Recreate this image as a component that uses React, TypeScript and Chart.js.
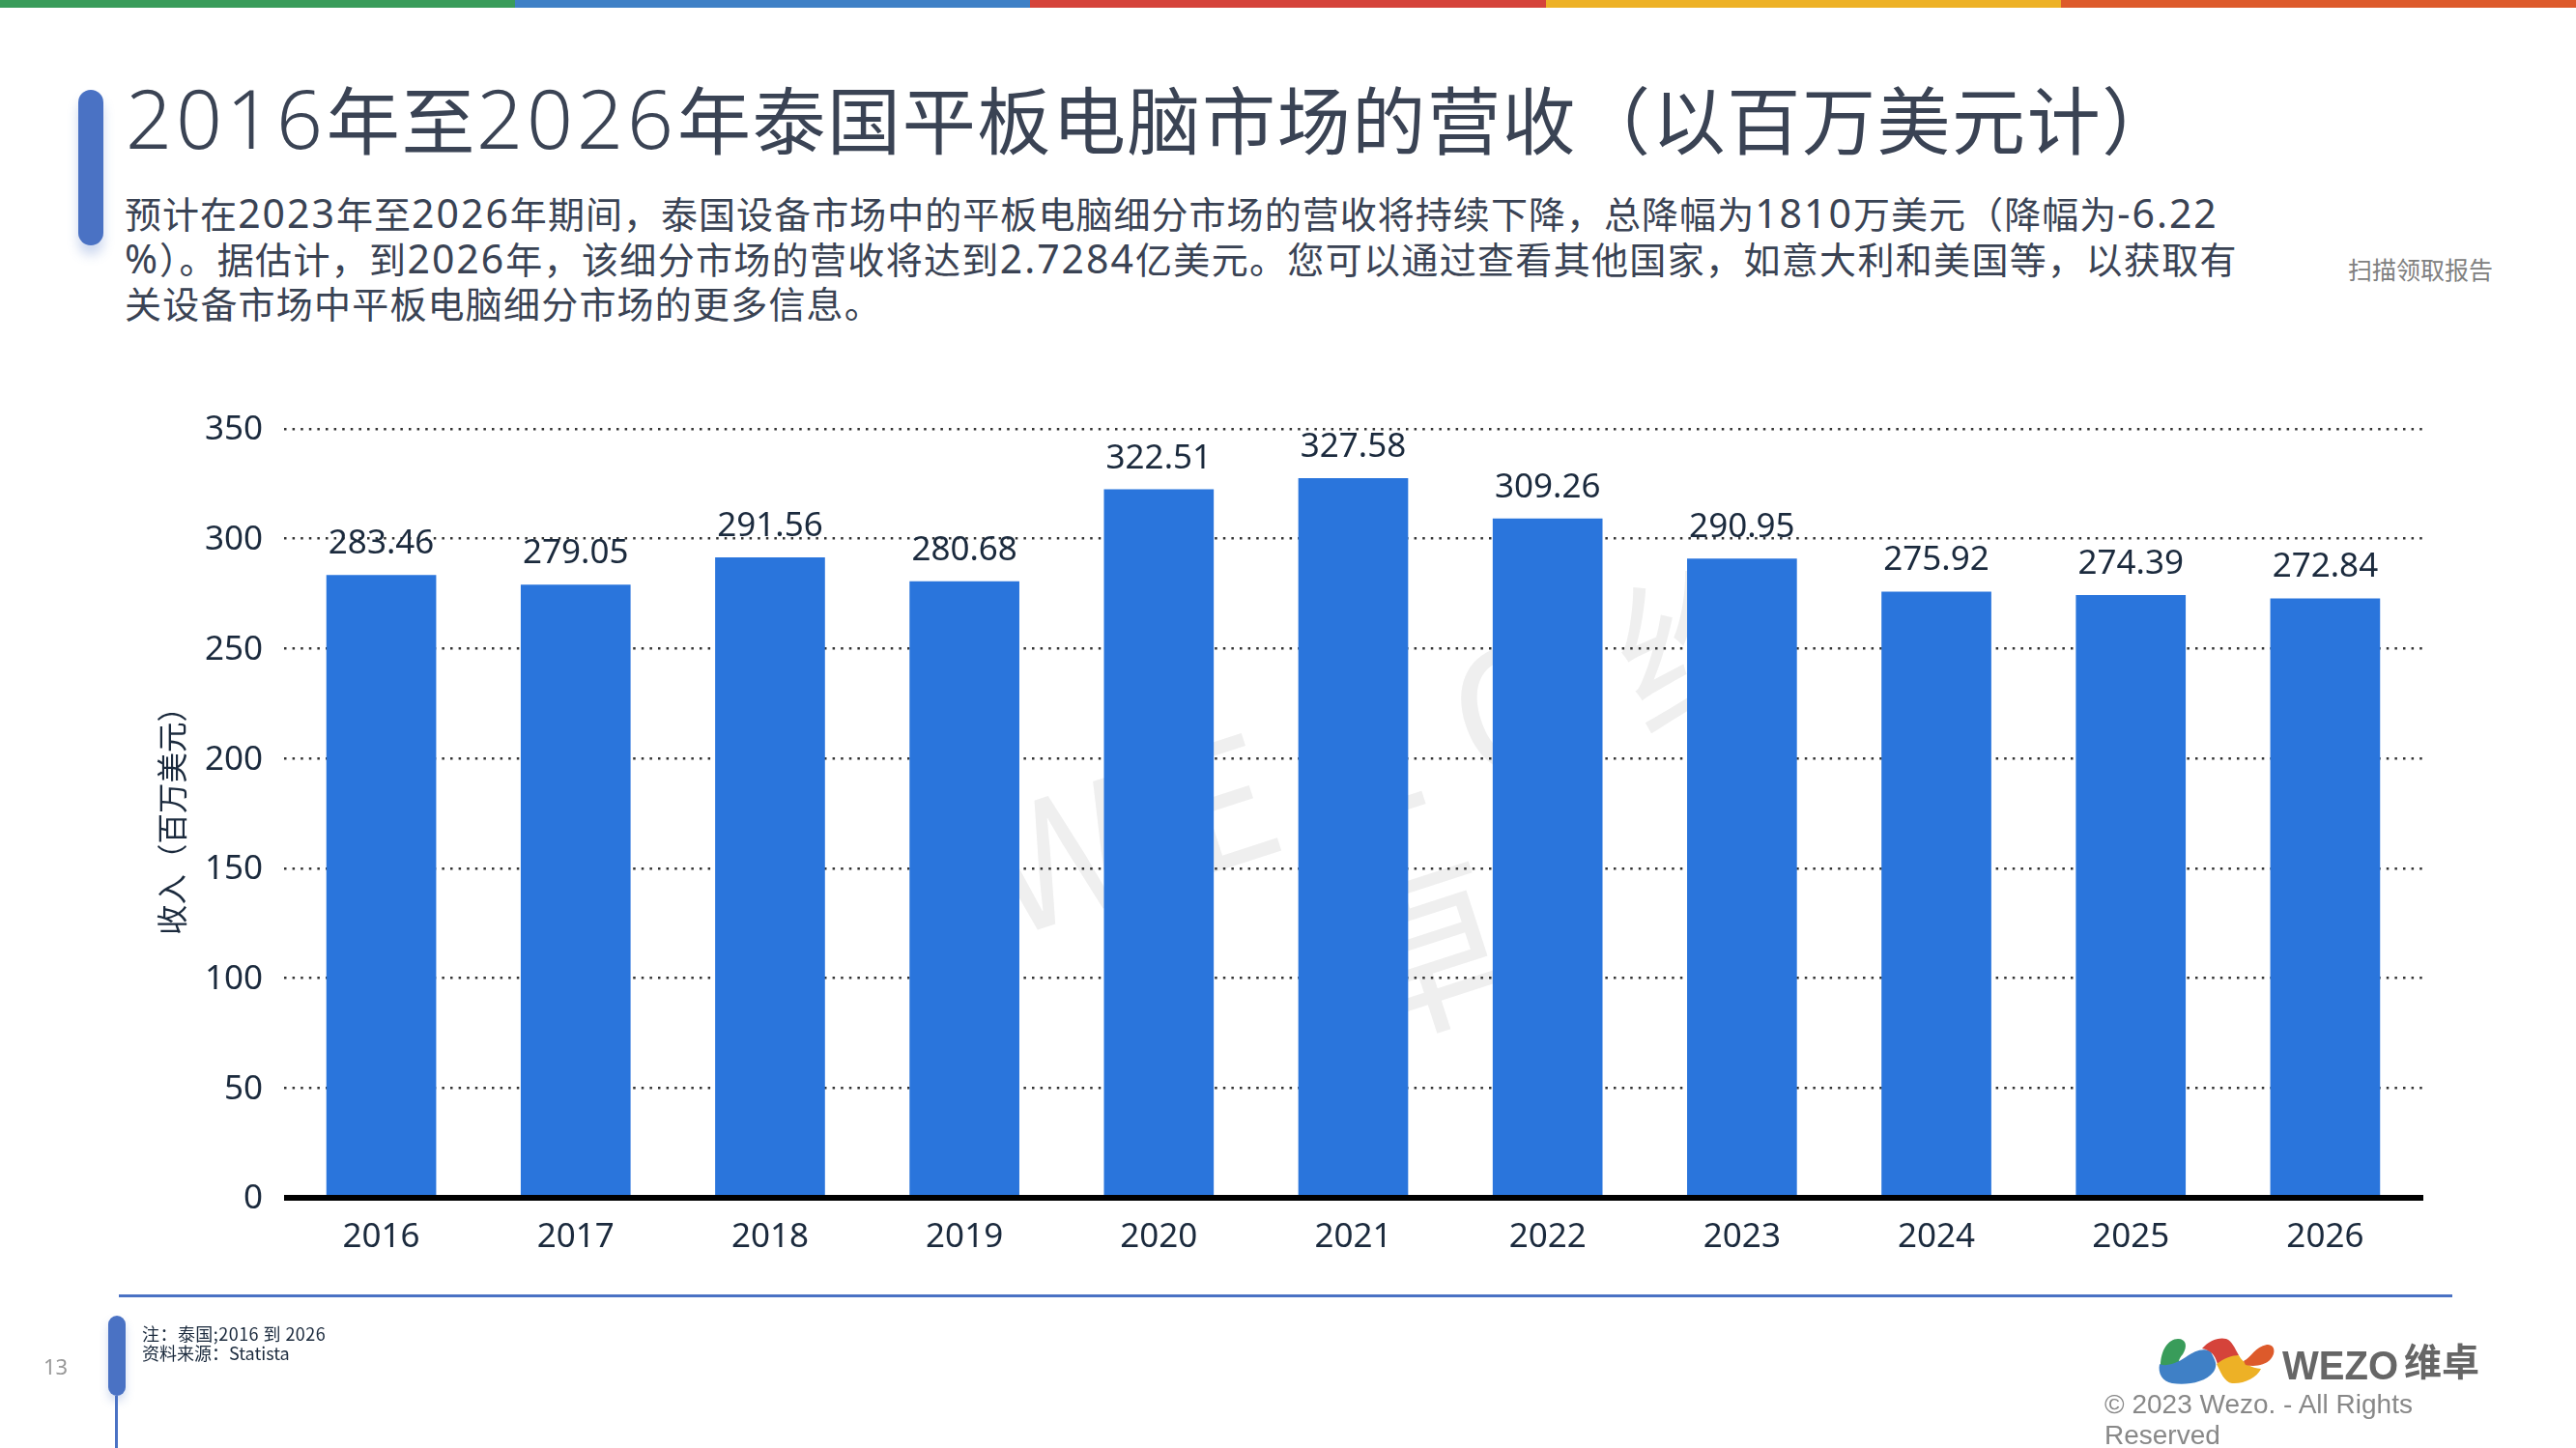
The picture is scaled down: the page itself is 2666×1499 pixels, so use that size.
import React, { useEffect, useRef } from "react";
import { Chart, registerables } from "chart.js";

Chart.register(...registerables);

const years = ["2016", "2017", "2018", "2019", "2020", "2021", "2022", "2023", "2024", "2025", "2026"];
const revenue = [283.46, 279.05, 291.56, 280.68, 322.51, 327.58, 309.26, 290.95, 275.92, 274.39, 272.84];
const axisTitle = "收入（百万美元）";
const titleText = "2016年至2026年泰国平板电脑市场的营收（以百万美元计）";
const bodyLines = [
  "预计在2023年至2026年期间，泰国设备市场中的平板电脑细分市场的营收将持续下降，总降幅为1810万美元（降幅为-6.22",
  "%）。据估计，到2026年，该细分市场的营收将达到2.7284亿美元。您可以通过查看其他国家，如意大利和美国等，以获取有",
  "关设备市场中平板电脑细分市场的更多信息。",
];
const stripColors = ["#399c5a", "#3f80c6", "#d5433a", "#edb126", "#dd5a2b"];

const CJK = '"Noto Sans CJK SC", sans-serif';
const LABEL = '"Noto Sans", "Noto Sans CJK SC", sans-serif';
const ACCENT = "#4a72c4";
const INK = "#1b2a3d";
const BODY_SPACING = [1.04, 1.34, 1.2];

const valueLabels = {
  id: "valueLabels",
  beforeDraw(chart: any) {
    // the reference's y tick labels sit slightly lower than chart.js centres them
    chart.scales.y.getLabelItems().forEach((item: any) => {
      if (!item.__moved) {
        item.options.translation[1] += 1.5;
        item.__moved = true;
      }
    });
    chart.scales.x.getLabelItems().forEach((item: any) => {
      if (!item.__moved) {
        item.options.translation[1] -= 2;
        item.__moved = true;
      }
    });
  },
  afterDatasetsDraw(chart: any) {
    const { ctx } = chart;
    const meta = chart.getDatasetMeta(0);
    ctx.save();
    ctx.font = `35px ${LABEL}`;
    ctx.fillStyle = INK;
    ctx.textAlign = "center";
    ctx.textBaseline = "alphabetic";
    meta.data.forEach((el: any, i: number) => {
      ctx.fillText(revenue[i].toFixed(2), el.x, el.y - 22);
    });
    ctx.restore();
  },
};

function T({ x, base, size, color, children, font = CJK, spacing = 0, weight = 400 }: any) {
  return (
    <div
      style={{
        position: "absolute",
        left: x,
        top: base - 0.936 * size,
        fontFamily: font,
        fontSize: size,
        lineHeight: `${size}px`,
        color,
        letterSpacing: spacing,
        fontWeight: weight,
        whiteSpace: "pre",
      }}
    >
      {children}
    </div>
  );
}

function Mixed({ text, digitSize, digitSpacing, weight = 400 }: any) {
  const parts = text.split(/([0-9.%\-]+)/);
  return (
    <>
      {parts.map((p: string, i: number) =>
        i % 2 === 1 ? (
          <span
            key={i}
            style={{
              fontFamily: LABEL,
              fontSize: digitSize,
              letterSpacing: digitSpacing,
              fontWeight: weight,
              lineHeight: 0,
            }}
          >
            {p}
          </span>
        ) : (
          <span key={i}>{p}</span>
        ),
      )}
    </>
  );
}

function Box({ x, y, w, h, c, r = 0, shadow }: any) {
  return (
    <div
      style={{
        position: "absolute",
        left: x,
        top: y,
        width: w,
        height: h,
        background: c,
        borderRadius: r,
        boxShadow: shadow,
      }}
    />
  );
}

function Watermark() {
  const base: any = {
    position: "absolute",
    fontFamily: CJK,
    color: "#efefef",
    lineHeight: 1,
    whiteSpace: "pre",
  };
  return (
    <>
      <div
        style={{
          ...base,
          left: 1020,
          top: 812,
          fontSize: 175,
          letterSpacing: 50,
          transform: "rotate(-18deg)",
          transformOrigin: "0 50%",
        }}
      >
        WEZO维
      </div>
      <div
        style={{
          ...base,
          left: 1370,
          top: 880,
          fontSize: 190,
          transform: "rotate(-18deg)",
        }}
      >
        卓
      </div>
    </>
  );
}

function Logo() {
  return (
    <svg
      style={{ position: "absolute", left: 2225, top: 1380 }}
      width={360}
      height={60}
      viewBox="2225 1380 360 60"
    >
      <path
        d="M2236 1414 C2236 1398 2244 1386 2254 1386 C2263 1386 2264 1394 2259 1402 C2254 1408 2254 1411 2258 1410 L2236 1418 Z"
        fill="#399c5a"
      />
      <path
        d="M2235 1412 C2240 1415 2252 1412 2262 1405 C2272 1398 2280 1395 2288 1399 C2292 1408 2296 1412 2291 1420 C2282 1432 2262 1434 2248 1432 C2238 1430 2233 1422 2235 1412 Z"
        fill="#3f80c6"
      />
      <path
        d="M2279 1396 C2286 1388 2296 1384 2304 1386 C2310 1388 2313 1396 2317 1403 L2295 1412 C2292 1402 2288 1398 2279 1396 Z"
        fill="#d5433a"
      />
      <path
        d="M2294 1412 C2302 1406 2310 1403 2317 1403 C2322 1412 2330 1416 2340 1417 C2336 1426 2322 1433 2310 1432 C2302 1431 2298 1420 2294 1412 Z"
        fill="#edb126"
      />
      <path
        d="M2322 1409 C2330 1405 2334 1394 2346 1392 C2354 1391 2356 1400 2350 1407 C2344 1414 2332 1415 2324 1413 Z"
        fill="#dd5a2b"
      />
      <text
        x={2362}
        y={1428}
        fontFamily='"Liberation Sans", sans-serif'
        fontWeight={700}
        fontSize={43}
        fill="#666"
        textLength={120}
        lengthAdjust="spacingAndGlyphs"
      >
        WEZO
      </text>
      <text x={2488} y={1424} fontFamily={CJK} fontWeight={700} fontSize={39} fill="#666">
        维卓
      </text>
    </svg>
  );
}

export default function App() {
  const ref = useRef<HTMLCanvasElement>(null);

  useEffect(() => {
    const chart = new Chart(ref.current as HTMLCanvasElement, {
      type: "bar",
      data: {
        labels: years,
        datasets: [
          {
            data: revenue,
            backgroundColor: "#2a75dc",
            categoryPercentage: 1,
            barPercentage: 0.565,
          },
        ],
      },
      plugins: [valueLabels],
      options: {
        animation: false,
        responsive: false,
        devicePixelRatio: 1,
        layout: { padding: { left: 150, top: 444, right: 159, bottom: 199 } },
        plugins: { legend: { display: false }, tooltip: { enabled: false } },
        scales: {
          x: {
            grid: { display: false },
            border: { display: true, color: "#000", width: 6, z: 1 },
            ticks: {
              color: INK,
              font: { family: LABEL, size: 35 },
              padding: 14,
              maxRotation: 0,
            },
            afterFit: (s: any) => {
              s.height = 60;
            },
          },
          y: {
            min: 0,
            max: 350,
            title: {
              display: true,
              text: axisTitle,
              color: INK,
              font: { family: CJK, size: 31.5 },
              padding: { top: 9, bottom: 0 },
            },
            grid: { color: "#333", lineWidth: 2.5, drawTicks: false },
            border: { display: false, dash: [2.5, 6.1] },
            ticks: {
              stepSize: 50,
              color: INK,
              font: { family: LABEL, size: 35 },
              padding: 22,
            },
            afterFit: (s: any) => {
              s.width = 144;
            },
          },
        },
      },
    } as any);
    return () => chart.destroy();
  }, []);

  return (
    <div
      style={{
        position: "absolute",
        left: 0,
        top: 0,
        width: 2666,
        height: 1499,
        overflow: "hidden",
        background: "#fff",
      }}
    >
      <Watermark />
      {stripColors.map((c, i) => (
        <Box key={c} x={i * 533.2} y={0} w={533.2} h={8} c={c} />
      ))}
      <Box x={81} y={93} w={26} h={161} c={ACCENT} r={13} shadow="0 10px 12px rgba(74,114,196,0.28)" />
      <T x={130} base={154} size={76} color="#3a4354" spacing={1.6}>
        <Mixed text={titleText} digitSize={84} digitSpacing={4} weight={300} />
      </T>
      {bodyLines.map((line, i) => (
        <T key={i} x={129} base={237 + i * 46.5} size={38} color="#3a4354" spacing={BODY_SPACING[i]}>
          <Mixed text={line} digitSize={41} digitSpacing={2} />
        </T>
      ))}
      <T x={2430} base={289} size={25} color="#808080">
        扫描领取报告
      </T>
      <canvas
        ref={ref}
        width={2666}
        height={1499}
        style={{ position: "absolute", left: 0, top: 0, display: "block" }}
      />
      <Box x={286} y={1234} w={8} h={12} c="#fff" />
      <Box x={123} y={1340} w={2415} h={3} c={ACCENT} />
      <Box x={112} y={1362} w={18} h={83} c={ACCENT} r={9} shadow="0 6px 10px rgba(74,114,196,0.25)" />
      <Box x={119} y={1445} w={3} h={54} c={ACCENT} />
      <T x={45} base={1424} size={22} color="#999" font={LABEL}>
        13
      </T>
      <T x={147} base={1388} size={18} color={INK} spacing={0.45}>
        注：泰国;2016 到 2026
      </T>
      <T x={147} base={1408} size={18} color={INK}>
        资料来源：Statista
      </T>
      <Logo />
      <T x={2178} base={1466} size={28} color="#888" font='"Liberation Sans", sans-serif'>
        © 2023 Wezo. - All Rights
      </T>
      <T x={2178} base={1498} size={28} color="#888" font='"Liberation Sans", sans-serif'>
        Reserved
      </T>
    </div>
  );
}
